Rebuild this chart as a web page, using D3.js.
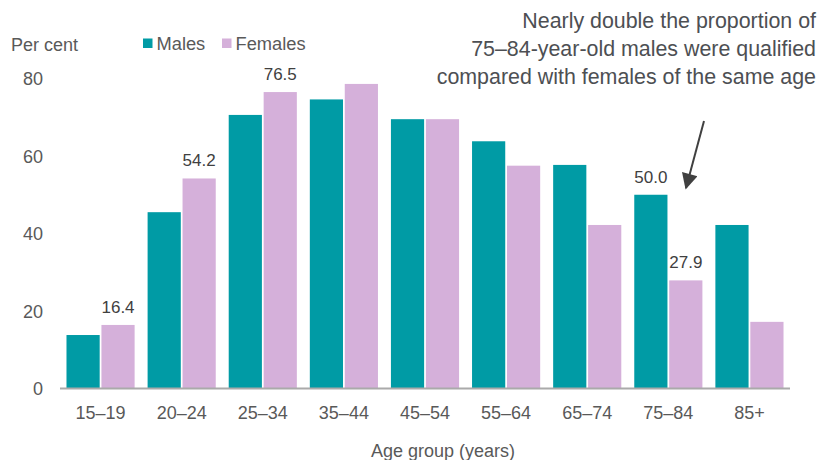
<!DOCTYPE html>
<html>
<head>
<meta charset="utf-8">
<script src="https://cdn.jsdelivr.net/npm/d3@7"></script>
<style>
  body { margin: 0; background: #fff; }
  svg text { font-family: "Liberation Sans", Arial, sans-serif; }
</style>
</head>
<body>
<svg id="chart" width="832" height="460"></svg>
<script>
// age groups and per cent qualified
var ageGroups = ["15–19", "20–24", "25–34", "35–44", "45–54", "55–64", "65–74", "75–84", "85+"];
var males   = [13.8, 45.5, 70.6, 74.6, 69.5, 63.8, 57.7, 50.0, 42.2];
var females = [16.4, 54.2, 76.5, 78.6, 69.5, 57.5, 42.2, 27.9, 17.2];
var yTicks = [0, 20, 40, 60, 80];
// which bars carry a value label
var labelled = [
  {series: "females", group: "15–19"},
  {series: "females", group: "20–24"},
  {series: "females", group: "25–34"},
  {series: "males", group: "75–84"},
  {series: "females", group: "75–84"}
];
var noteLines = ["Nearly double the proportion of", "75–84-year-old males were qualified", "compared with females of the same age"];

var colors = {males: "#009ba5", females: "#d5b0da"};
var textCol = "#595959";

var svg = d3.select("#chart");
var left = 60, right = 790, bottom = 388.5;

var x0 = d3.scaleBand()
  .domain(ageGroups)
  .range([left, right])
  .paddingInner(0.16)
  .paddingOuter(0.08);

var x1 = d3.scaleBand()
  .domain(["males", "females"])
  .range([0, x0.bandwidth()])
  .paddingInner(0.05);

var y = d3.scaleLinear()
  .domain([0, 80])
  .range([bottom, bottom - 80 * 3.875]);

var rows = ageGroups.map(function(g, i){
  return {group: g, males: males[i], females: females[i]};
});

function valueOf(d){
  return (d.series == "males" ? males : females)[ageGroups.indexOf(d.group)];
}

// bars
var groups = svg.append("g").selectAll("g")
  .data(rows)
  .enter().append("g")
  .attr("transform", function(d){ return "translate(" + x0(d.group) + ",0)"; });

groups.selectAll("rect")
  .data(function(d){ return ["males", "females"].map(function(k){ return {key: k, value: d[k]}; }); })
  .enter().append("rect")
  .attr("x", function(d){ return x1(d.key); })
  .attr("y", function(d){ return y(d.value); })
  .attr("width", x1.bandwidth())
  .attr("height", function(d){ return y(0) - y(d.value); })
  .attr("fill", function(d){ return colors[d.key]; });

// value labels
svg.append("g").selectAll("text")
  .data(labelled)
  .enter().append("text")
  .attr("x", function(d){ return x0(d.group) + x1(d.series) + x1.bandwidth() / 2; })
  .attr("y", function(d){ return y(valueOf(d)) - 12; })
  .attr("text-anchor", "middle")
  .attr("font-size", "17px")
  .attr("fill", "#404040")
  .text(function(d){ return valueOf(d).toFixed(1); });

// x axis
svg.append("line")
  .attr("x1", left).attr("x2", right)
  .attr("y1", y(0)).attr("y2", y(0))
  .attr("stroke", "#aaaaaa").attr("stroke-width", 2);

svg.append("g").selectAll("text")
  .data(ageGroups)
  .enter().append("text")
  .attr("x", function(d){ return x0(d) + x0.bandwidth() / 2; })
  .attr("y", 418.5)
  .attr("text-anchor", "middle")
  .attr("font-size", "18px")
  .attr("fill", textCol)
  .text(function(d){ return d; });

// y tick labels
svg.append("g").selectAll("text")
  .data(yTicks)
  .enter().append("text")
  .attr("x", 43)
  .attr("y", function(d){ return y(d) + 6.5; })
  .attr("text-anchor", "end")
  .attr("font-size", "18px")
  .attr("fill", textCol)
  .text(function(d){ return d; });

svg.append("text")
  .attr("x", 11).attr("y", 50.5)
  .attr("font-size", "18px")
  .attr("fill", textCol)
  .text("Per cent");

svg.append("text")
  .attr("x", 443).attr("y", 456.5)
  .attr("text-anchor", "middle")
  .attr("font-size", "18px")
  .attr("fill", textCol)
  .text("Age group (years)");

// legend
var legend = svg.append("g");
[["males", "Males", 143], ["females", "Females", 222]].forEach(function(l){
  legend.append("rect")
    .attr("x", l[2]).attr("y", 38.5)
    .attr("width", 9.5).attr("height", 9.5)
    .attr("fill", colors[l[0]]);
  legend.append("text")
    .attr("x", l[2] + 13.5).attr("y", 50)
    .attr("font-size", "18.3px")
    .attr("fill", textCol)
    .text(l[1]);
});

// annotation
svg.append("g").selectAll("text")
  .data(noteLines)
  .enter().append("text")
  .attr("x", 816)
  .attr("y", function(d, i){ return 28 + i * 28; })
  .attr("text-anchor", "end")
  .attr("font-size", "21.4px")
  .attr("fill", "#4d4f53")
  .text(function(d){ return d; });

svg.append("defs").append("marker")
  .attr("id", "arrow")
  .attr("viewBox", "0 0 10 10")
  .attr("refX", 9).attr("refY", 5)
  .attr("markerWidth", 9).attr("markerHeight", 8)
  .attr("markerUnits", "strokeWidth")
  .attr("orient", "auto")
  .append("path")
  .attr("d", "M0,0 L10,5 L0,10 Z")
  .attr("fill", "#404040");

svg.append("line")
  .attr("x1", 704).attr("y1", 121)
  .attr("x2", 686).attr("y2", 188)
  .attr("stroke", "#404040")
  .attr("stroke-width", 2)
  .attr("marker-end", "url(#arrow)");
</script>
</body>
</html>
